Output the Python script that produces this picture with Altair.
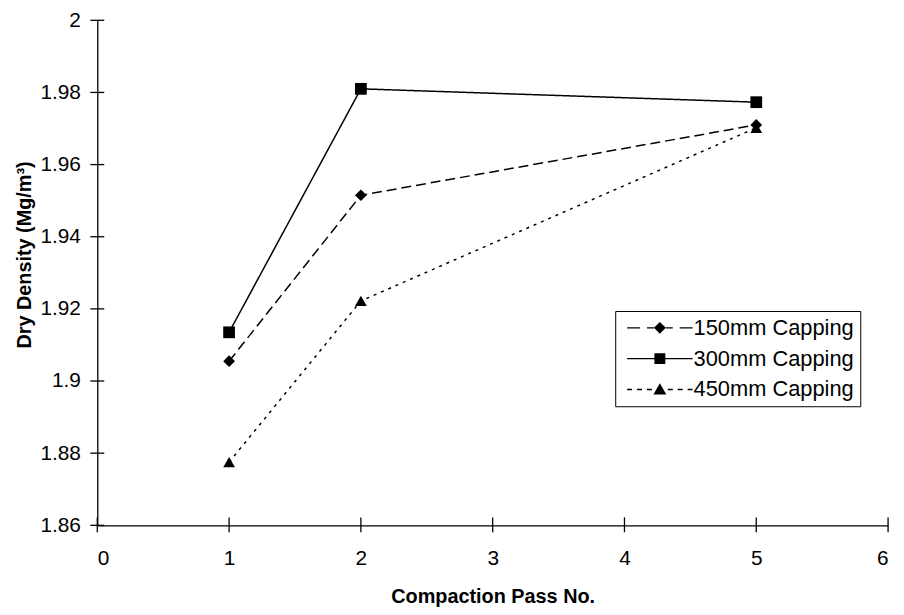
import altair as alt
import pandas as pd

# ---- data ----
series = ["150mm Capping", "300mm Capping", "450mm Capping"]
passes = [1, 2, 5]
d150 = [1.9055, 1.9515, 1.9710]
d300 = [1.9135, 1.9810, 1.9773]
d450 = [1.8775, 1.9222, 1.9702]
x_ticks = [0, 1, 2, 3, 4, 5, 6]
y_ticks = [1.86, 1.88, 1.90, 1.92, 1.94, 1.96, 1.98, 2.00]

rows = []
for name, vals in zip(series, [d150, d300, d450]):
    for p, v in zip(passes, vals):
        rows.append({"series": name, "pass": p, "density": v})
df = pd.DataFrame(rows)

W, H = 797, 509
FONT = "Liberation Sans"
LFS = 21
TFS = 20

xscale = alt.Scale(domain=[0, 6], nice=False, zero=False)
yscale = alt.Scale(domain=[1.86, 2.0], nice=False, zero=False)

xaxis = alt.Axis(values=x_ticks, ticks=False, grid=False, domainColor="black",
                 domainWidth=1.3, labelFont=FONT, labelFontSize=LFS, labelColor="black",
                 labelPadding=23, format="d", title="Compaction Pass No.", titleFont=FONT,
                 titleFontSize=TFS, titleFontWeight="bold", titleColor="black",
                 titleX=W / 2, titleY=72, titleBaseline="middle")
yaxis = alt.Axis(values=y_ticks, ticks=False, grid=False, domainColor="black",
                 domainWidth=1.3, labelFont=FONT, labelFontSize=LFS, labelColor="black",
                 labelPadding=17, format="~g", title="Dry Density (Mg/m³)", titleFont=FONT,
                 titleFontSize=TFS, titleFontWeight="bold", titleColor="black",
                 titleX=-73, titleY=236, titleBaseline="middle", titleAngle=270)

dashes = [[10, 5], [1, 0], [3, 5]]
shapes = ["diamond", "square", "triangle-up"]


# legend symbols (style only): line pieces drawn as thin filled bars + the series marker
def bars(segs, half=0.15):
    return "".join(f"M{a},{-half}H{b}V{half}H{a}Z" for a, b in segs)


legend_paths = [
    bars([(-1, 1.6), (3.0, 4.4), (6.8, 8.2), (9.6, 12.2)]) + "M5.6,-1.2L6.8,0L5.6,1.2L4.4,0Z",
    bars([(-1, 12.2)]) + "M4.5,-1.1H6.7V1.1H4.5Z",
    bars([(-1, 0), (1, 2), (3, 4), (7.2, 8.2), (9.2, 10.2), (11.2, 12.2)])
    + "M5.6,-1.25L6.9,1.05L4.3,1.05Z",
]

legend = alt.Legend(
    title=None, orient="none", legendX=522, legendY=293,
    labelFont=FONT, labelFontSize=22, labelColor="black", labelLimit=400,
    strokeColor="black", fillColor="white", padding=6, rowPadding=9,
    symbolSize=100, labelOffset=51,
    symbolFillColor="black", symbolOpacity=1,
)

base = alt.Chart(df)
line_layers = []
point_layers = []
for name, dash, shp in zip(series, dashes, shapes):
    sub = base.transform_filter(alt.datum.series == name)
    line_layers.append(
        sub.mark_line(color="black", strokeWidth=1.5, strokeDash=dash).encode(
            x=alt.X("pass:Q", scale=xscale, axis=xaxis),
            y=alt.Y("density:Q", scale=yscale, axis=yaxis),
        )
    )
    point_layers.append(
        sub.mark_point(filled=True, color="black", opacity=1, size=140, shape=shp).encode(
            x=alt.X("pass:Q", scale=xscale),
            y=alt.Y("density:Q", scale=yscale),
        )
    )

# legend-only layer: no rows are drawn, the legend comes from the explicit scale domain
legend_layer = base.transform_filter("false").mark_point(
    filled=True, color="black", opacity=1, size=100
).encode(
    x=alt.X("pass:Q", scale=xscale),
    y=alt.Y("density:Q", scale=yscale),
    shape=alt.Shape("series:N", scale=alt.Scale(domain=series, range=legend_paths),
                    legend=legend),
)

yt = alt.Chart(pd.DataFrame({"v": y_ticks})).mark_rule(color="black", strokeWidth=1.3).encode(
    y=alt.Y("v:Q", scale=yscale), x=alt.value(-7), x2=alt.value(7))
xt = alt.Chart(pd.DataFrame({"v": x_ticks})).mark_rule(color="black", strokeWidth=1.3).encode(
    x=alt.X("v:Q", scale=xscale), y=alt.value(H - 8), y2=alt.value(H + 7))

chart = alt.layer(*line_layers, *point_layers, legend_layer, yt, xt).properties(
    width=W, height=H,
    padding={"left": 90, "top": 10, "right": 8, "bottom": 88},
    autosize=alt.AutoSizeParams(type="none"),
    background="white",
).configure_view(stroke=None)

chart.save("out.html", embed_options={"renderer": "svg", "actions": False})
